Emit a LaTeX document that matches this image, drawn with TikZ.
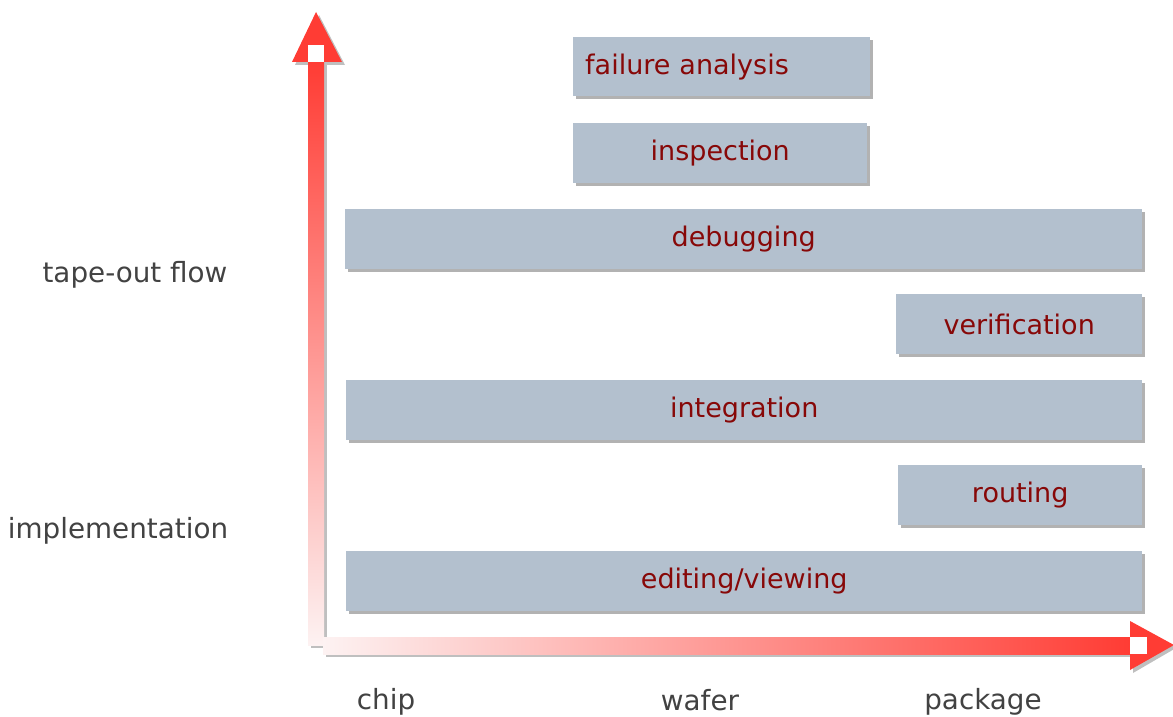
\documentclass[tikz,border=0pt]{standalone}
\usepackage{fontspec}
\setmainfont{DejaVu Sans}
\usetikzlibrary{shadows}
\definecolor{boxfill}{RGB}{179,192,206}
\definecolor{boxtext}{RGB}{135,8,8}
\definecolor{axisred}{RGB}{255,60,52}
\definecolor{axispale}{RGB}{253,242,242}
\definecolor{labelgray}{RGB}{66,66,66}
\tikzset{
  box/.style={fill=boxfill, draw=none, inner sep=0pt, anchor=north west,
    text=boxtext, font=\fontsize{27}{31}\selectfont,
    drop shadow={shadow xshift=3pt, shadow yshift=-3pt, fill=black, opacity=0.3}},
  axislabel/.style={text=labelgray, font=\fontsize{27.8}{32}\selectfont, inner sep=0pt},
  shadowfill/.style={fill=black, opacity=0.25}
}
\begin{document}
\begin{tikzpicture}[x=1pt,y=-1pt]
\useasboundingbox (0,0) rectangle (1173,717);
% boxes
\node[box, minimum width=297pt, minimum height=59pt, text width=273pt, align=left] (fa) at (573,37) {failure analysis};
\node[box, minimum width=294pt, minimum height=60pt] (insp) at (573,123) {inspection};
\node[box, minimum width=797pt, minimum height=60pt] (debug) at (345,209) {debugging};
\node[box, minimum width=246pt, minimum height=60pt] (verif) at (896,294) {verification};
\node[box, minimum width=796pt, minimum height=60pt] (integ) at (346,380) {integration};
\node[box, minimum width=244pt, minimum height=60pt] (rout) at (898,465) {routing};
\node[box, minimum width=796pt, minimum height=60pt] (edit) at (346,551) {editing/viewing};
% vertical axis shadow
\fill[shadowfill] (311,65) rectangle (327,648);
\fill[shadowfill] (319,15) -- (345,65) -- (295,65) -- cycle;
% horizontal axis shadow
\fill[shadowfill] (326,640) rectangle (1133,657);
\fill[shadowfill] (1133,624) -- (1176,648) -- (1133,673) -- cycle;
% vertical axis
\shade[top color=axisred, bottom color=axispale] (308,62) rectangle (324,645);
\fill[axisred] (316,12) -- (342,62) -- (292,62) -- cycle;
\fill[white] (308,45) rectangle (324,62);
% horizontal axis
\shade[left color=axispale, right color=axisred] (323,637) rectangle (1130,654);
\fill[axisred] (1130,621) -- (1174,645) -- (1130,670) -- cycle;
\fill[white] (1130,637) rectangle (1147,654);
% labels
\node[axislabel] (tof) at (135,275) {tape-out flow};
\node[axislabel] (impl) at (118,531) {implementation};
\node[axislabel] (chip) at (386,702) {chip};
\node[axislabel] (wafer) at (700,700) {wafer};
\node[axislabel] (pkg) at (983,702) {package};
\end{tikzpicture}
\end{document}
